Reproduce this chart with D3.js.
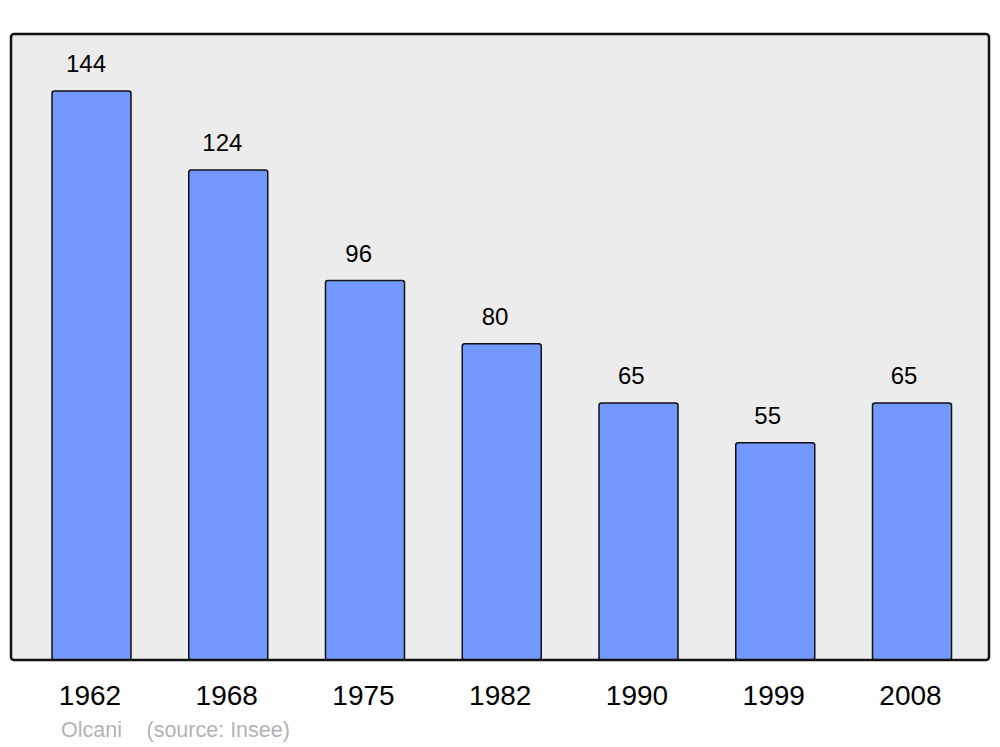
<!DOCTYPE html>
<html><head><meta charset="utf-8">
<script src="https://cdn.jsdelivr.net/npm/d3@7"></script>
<style>body{margin:0;background:#fff}svg{display:block}</style>
</head><body>
<svg id="c" width="1000" height="747"></svg>
<script>
const years = ["1962","1968","1975","1982","1990","1999","2008"];
const values = [144,124,96,80,65,55,65];
const credit = "Olcani";
const source = "(source: Insee)";

const svg = d3.select("#c");
const font = "Liberation Sans, Arial, sans-serif";

// frame background
const fx0 = 11, fx1 = 989, fy0 = 34, fy1 = 660;
svg.append("rect").attr("x", fx0).attr("y", fy0).attr("width", fx1 - fx0).attr("height", fy1 - fy0)
  .attr("rx", 3).attr("fill", "#ececec");

const x = d3.scalePoint().domain(years).range([91.5, 912]);
const xl = d3.scalePoint().domain(years).range([86, 904]);
const y = d3.scaleLinear().domain([0, 158.4]).range([fy1, fy0]);
const bw = 79;

svg.append("g").selectAll("rect").data(values).join("rect")
  .attr("x", (d, i) => x(years[i]) - bw / 2)
  .attr("y", d => y(d))
  .attr("width", bw)
  .attr("height", d => y(0) - y(d))
  .attr("rx", 2.5)
  .attr("fill", "#7399ff").attr("stroke", "#111").attr("stroke-width", 1.5);

// frame outline on top
svg.append("rect").attr("x", fx0).attr("y", fy0).attr("width", fx1 - fx0).attr("height", fy1 - fy0)
  .attr("rx", 3).attr("fill", "none").attr("stroke", "#111").attr("stroke-width", 2.5);

svg.append("g").selectAll("text").data(values).join("text")
  .attr("x", (d, i) => xl(years[i]))
  .attr("y", d => y(d) - 19)
  .attr("text-anchor", "middle")
  .attr("font-family", font).attr("font-size", 24).attr("fill", "#000")
  .text(d => d);

svg.append("g").selectAll("text").data(years).join("text")
  .attr("x", d => x(d) - 1.5)
  .attr("y", 705)
  .attr("text-anchor", "middle")
  .attr("font-family", font).attr("font-size", 28).attr("fill", "#000")
  .text(d => d);

svg.append("text").attr("x", 61).attr("y", 737)
  .attr("font-family", font).attr("font-size", 21.5).attr("fill", "#b3b3b3").text(credit);
svg.append("text").attr("x", 146.5).attr("y", 737)
  .attr("font-family", font).attr("font-size", 21.5).attr("fill", "#b3b3b3").text(source);
</script>
</body></html>
